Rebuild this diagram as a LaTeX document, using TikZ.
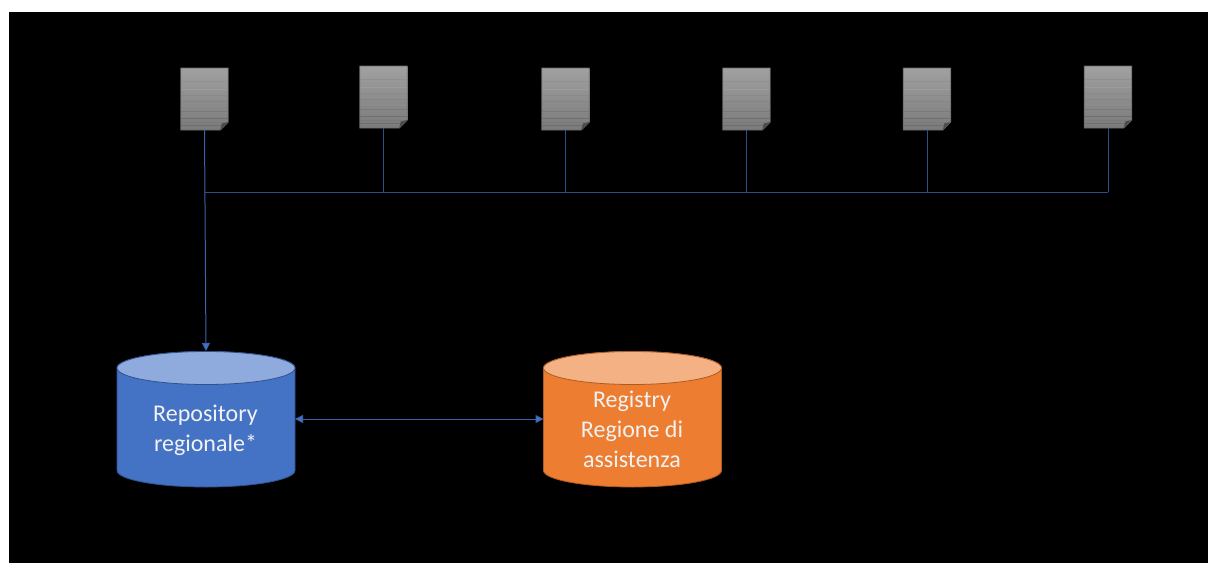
\documentclass[tikz,border=0pt]{standalone}
\usepackage{fontspec}
\setmainfont{Carlito}
\usetikzlibrary{arrows.meta}
\definecolor{bluebody}{HTML}{4472C4}
\definecolor{bluetop}{HTML}{8FAADC}
\definecolor{blueedge}{HTML}{2F528F}
\definecolor{orangebody}{HTML}{ED7D31}
\definecolor{orangetop}{HTML}{F4B183}
\definecolor{orangeedge}{HTML}{AE5A21}
\definecolor{busline}{HTML}{2A4F8C}
\definecolor{arrowline}{HTML}{3A64AE}
\definecolor{softwhite}{HTML}{F2F2F2}
\tikzset{
  x=1pt,y=-1pt,
  docnode/.style={minimum width=47.5pt,minimum height=62pt,inner sep=0pt,outer sep=0pt},
  dbnode/.style={minimum width=178pt,minimum height=136pt,inner sep=0pt,outer sep=0pt},
  dbtext/.style={align=center,text=softwhite,inner sep=0pt,font=\fontsize{24}{30}\selectfont},
  busstyle/.style={draw=busline,line width=1pt},
  arrowstyle/.style={draw=arrowline,line width=1pt,>={Triangle[length=8pt,width=8pt,fill=bluebody]}},
}
% \docsheet{name}{centre x}{centre y}
\newcommand{\docsheet}[3]{%
  \node[docnode] (#1) at (#2,#3) {};
  \begin{scope}[shift={(#2-23.75,#3-31)}]
    \begin{scope}
      \clip (0,0) -- (47.5,0) -- (47.5,54) -- (39.5,62) -- (0,62) -- cycle;
      \fill[top color=black!37,bottom color=black!52] (0,0) rectangle (47.5,62);
      \foreach \yy/\gg in {13/43,21/39,27/46,33/48,38/45,43/52,47/48,50/56,54/52,57/57}
        \fill[black!\gg] (0,\yy) rectangle (47.5,\yy+1.4);
    \end{scope}
    \draw[draw=black!58,line width=0.7pt] (0,0) -- (47.5,0) -- (47.5,54) -- (39.5,62) -- (0,62) -- cycle;
    \fill[black!70] (47.5,54) -- (41,55.5) -- (39.5,62) -- cycle;
  \end{scope}
}
% \dbdraw{centre x}{body}{top}{edge}
\newcommand{\dbdraw}[4]{%
  \path[fill=#2,draw=#4,line width=0.8pt] (#1-89,368) -- (#1-89,470.5)
     arc[start angle=180,end angle=360,x radius=89,y radius=-16.5]
     -- (#1+89,368) arc[start angle=0,end angle=180,x radius=89,y radius=-16.5] -- cycle;
  \path[fill=#3,draw=#4,line width=0.8pt] (#1,368) ellipse[x radius=89,y radius=16.5];
}
\begin{document}
\begin{tikzpicture}
  \useasboundingbox (0,0) rectangle (1208,563);
  \fill[white] (0,0) rectangle (1208,563);
  \fill[black] (9,12) rectangle (1208,563);

  \docsheet{d1}{204.5}{99}
  \docsheet{d2}{383.5}{97}
  \docsheet{d3}{565.5}{99}
  \docsheet{d4}{746.5}{99}
  \docsheet{d5}{927}{99}
  \docsheet{d6}{1108}{97}

  \coordinate (busL) at (204.5,192);
  \coordinate (busR) at (1108,192);
  \draw[busstyle] (busL) -- (busR);
  \foreach \n in {d2,d3,d4,d5,d6}
    \draw[busstyle] (\n.south) -- (\n.south |- busL);

  \dbdraw{206}{bluebody}{bluetop}{blueedge}
  \dbdraw{632.5}{orangebody}{orangetop}{orangeedge}
  \node[dbnode] (repo) at (206,419) {};
  \node[dbnode] (reg) at (632.5,419) {};
  \node[dbtext] (repotext) at (205.5,430.5) {Repository\\regionale*};
  \node[dbtext] (regtext) at (632,429) {Registry\\Regione di\\assistenza};

  \draw[arrowstyle,->] (d1.south) -- (repo.north);
  \draw[arrowstyle,<->] (repo.east) -- (reg.west);
\end{tikzpicture}
\end{document}
